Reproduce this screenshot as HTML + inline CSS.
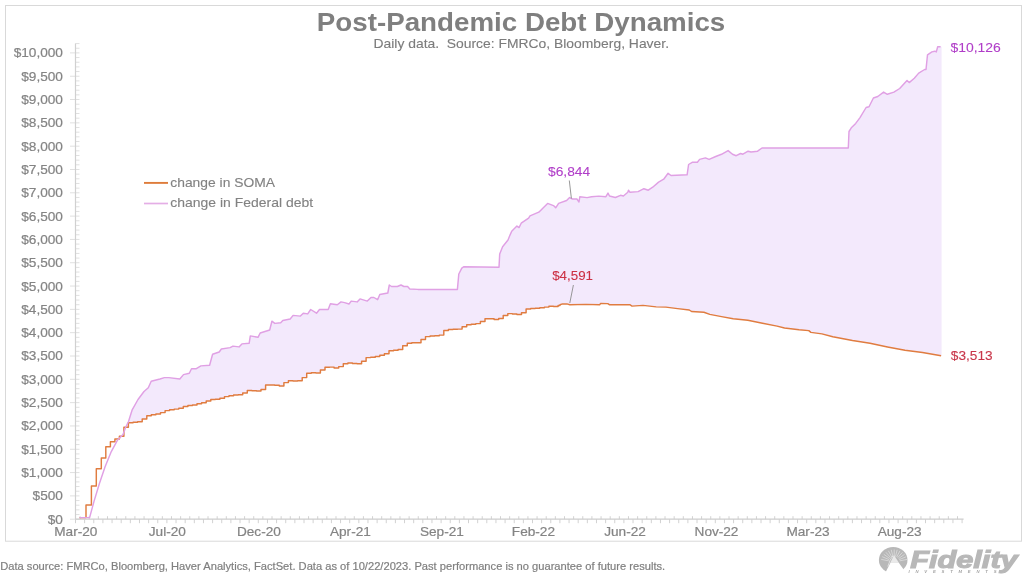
<!DOCTYPE html>
<html><head><meta charset="utf-8"><style>
html,body{margin:0;padding:0;background:#fff;width:1024px;height:581px;overflow:hidden}
svg{display:block}
text{font-family:"Liberation Sans",sans-serif}
</style></head><body>
<svg width="1024" height="581" viewBox="0 0 1024 581">
<defs><filter id="bl" x="0" y="0" width="1" height="1"><feGaussianBlur stdDeviation="0.5"/></filter></defs><g filter="url(#bl)">
<rect x="5.5" y="5.5" width="1016" height="535.7" fill="none" stroke="#d9d9d9" stroke-width="1"/>
<polygon points="127.5,423.5 128.5,421.5 132.2,409.8 138.0,399.5 144.0,391.5 148.3,387.8 151.2,381.2 160.0,379.0 164.4,377.6 168.8,377.6 179.8,379.0 183.5,374.6 189.3,373.2 191.5,368.8 195.9,368.8 200.9,365.9 209.6,365.2 212.6,354.2 219.2,352.0 221.4,349.0 230.1,347.6 233.0,346.1 239.0,346.9 241.9,343.9 249.2,343.2 250.3,335.9 258.0,337.3 260.2,333.0 269.7,330.0 271.9,321.2 274.8,323.4 280.7,322.7 282.8,320.5 290.2,319.0 293.1,315.4 300.4,316.1 303.3,313.2 307.7,313.9 310.7,309.5 316.5,313.2 319.5,309.5 328.2,309.5 330.4,303.7 337.3,304.8 341.0,301.9 344.6,302.6 349.0,304.0 351.2,301.1 357.1,301.9 360.0,298.9 367.3,301.1 371.0,297.5 373.9,297.5 377.6,299.7 379.8,294.5 387.8,293.0 389.3,285.0 391.5,286.5 397.3,286.5 401.0,285.0 403.9,286.5 407.6,286.5 409.8,289.0 417.8,289.4 457.4,289.4 458.8,274.0 461.8,268.2 464.0,266.7 499.0,267.3 499.7,254.1 502.6,246.8 508.0,240.0 510.0,235.1 511.7,231.2 516.9,226.1 519.0,227.6 521.2,223.2 528.6,218.1 530.0,215.9 538.8,212.2 547.6,203.4 553.5,205.6 555.7,207.8 558.6,203.4 566.6,200.5 569.6,197.6 572.5,199.0 576.9,199.0 579.0,202.0 579.8,196.8 587.1,197.6 591.5,196.8 598.8,196.1 605.9,196.7 608.0,193.1 609.5,196.0 615.4,197.5 620.5,195.3 623.4,196.0 627.8,192.3 628.5,190.2 630.0,192.3 638.1,191.6 643.9,188.7 648.3,190.2 652.7,187.2 658.6,182.1 663.7,179.2 668.1,173.3 671.0,175.5 687.1,174.8 688.6,164.5 692.2,162.3 697.4,162.3 699.6,159.4 705.4,157.9 709.1,159.4 715.7,156.5 721.5,154.3 728.1,150.6 732.5,154.3 736.2,155.7 740.6,153.5 742.9,154.2 748.1,151.2 751.0,152.0 757.6,151.2 762.0,148.0 848.3,148.0 849.0,131.5 851.3,127.8 855.7,123.4 860.0,117.6 866.1,107.5 869.0,106.8 873.4,98.0 877.8,96.5 883.6,92.1 887.3,94.3 893.9,92.1 899.7,88.5 907.0,80.4 909.2,82.6 914.3,78.2 918.7,73.1 924.6,69.5 926.0,69.5 927.5,54.9 931.9,51.9 934.8,51.2 936.3,51.9 937.7,46.8 940.6,46.8 941.6,46.8 941.6,355.8 941.1,355.8 922.5,352.5 905.0,350.3 887.5,347.0 870.0,343.3 852.5,340.5 832.8,336.8 821.9,333.9 810.9,332.4 808.8,330.6 799.1,329.8 784.5,328.0 777.1,326.1 762.5,323.2 747.8,320.3 733.2,318.8 721.5,316.6 709.8,314.4 703.9,312.2 691.5,311.5 689.3,310.0 677.6,308.6 665.9,307.1 656.2,306.9 643.0,305.4 632.0,306.1 629.8,304.7 609.3,304.7 607.8,303.6 600.5,303.5 599.8,304.7 585.9,304.4 569.8,304.7 566.9,303.9 562.5,303.9 560.0,304.8 560.0,305.5 558.1,305.5 558.1,306.5 553.5,306.5 553.5,306.2 548.9,306.2 548.9,307.1 544.4,307.1 544.4,307.8 539.8,307.8 539.8,308.2 535.2,308.2 535.2,308.5 530.7,308.5 530.7,308.9 526.1,308.9 526.1,312.7 521.5,312.7 521.5,314.5 516.9,314.5 516.9,313.9 512.4,313.9 512.4,313.6 507.8,313.6 507.8,315.5 503.2,315.5 503.2,318.4 498.7,318.4 498.7,319.4 494.1,319.4 494.1,318.8 489.5,318.8 489.5,318.7 485.0,318.7 485.0,321.4 480.4,321.4 480.4,323.6 475.8,323.6 475.8,324.2 471.2,324.2 471.2,324.8 466.7,324.8 466.7,326.8 462.1,326.8 462.1,329.1 457.5,329.1 457.5,329.3 453.0,329.3 453.0,329.5 448.4,329.5 448.4,330.4 443.8,330.4 443.8,335.1 439.3,335.1 439.3,335.7 434.7,335.7 434.7,336.0 430.1,336.0 430.1,336.6 425.5,336.6 425.5,339.4 421.0,339.4 421.0,342.8 416.4,342.8 416.4,342.8 411.8,342.8 411.8,343.3 407.3,343.3 407.3,345.7 402.7,345.7 402.7,349.4 398.1,349.4 398.1,350.3 393.6,350.3 393.6,350.7 389.0,350.7 389.0,353.8 384.4,353.8 384.4,355.3 379.8,355.3 379.8,356.4 375.3,356.4 375.3,357.2 370.7,357.2 370.7,357.6 366.1,357.6 366.1,361.3 361.6,361.3 361.6,363.8 357.0,363.8 357.0,363.4 352.4,363.4 352.4,363.0 347.9,363.0 347.9,363.7 343.3,363.7 343.3,366.6 338.7,366.6 338.7,368.0 334.1,368.0 334.1,367.1 329.6,367.1 329.6,367.2 325.0,367.2 325.0,370.0 320.4,370.0 320.4,373.0 315.9,373.0 315.9,372.7 311.3,372.7 311.3,373.3 306.7,373.3 306.7,377.6 302.2,377.6 302.2,380.7 297.6,380.7 297.6,380.9 293.0,380.9 293.0,380.7 288.4,380.7 288.4,382.6 283.9,382.6 283.9,386.0 279.3,386.0 279.3,385.3 274.7,385.3 274.7,384.9 270.2,384.9 270.2,384.9 265.6,384.9 265.6,389.5 261.0,389.5 261.0,391.0 256.5,391.0 256.5,390.8 251.9,390.8 251.9,390.4 247.3,390.4 247.3,393.0 242.7,393.0 242.7,394.7 238.2,394.7 238.2,395.0 233.6,395.0 233.6,395.7 229.0,395.7 229.0,396.6 224.5,396.6 224.5,398.2 219.9,398.2 219.9,399.3 215.3,399.3 215.3,399.4 210.8,399.4 210.8,400.9 206.2,400.9 206.2,402.7 201.6,402.7 201.6,403.8 197.0,403.8 197.0,404.9 192.5,404.9 192.5,405.5 187.9,405.5 187.9,406.4 183.3,406.4 183.3,408.3 178.8,408.3 178.8,409.1 174.2,409.1 174.2,409.8 169.6,409.8 169.6,410.6 165.1,410.6 165.1,412.6 160.5,412.6 160.5,413.9 155.9,413.9 155.9,414.7 151.3,414.7 151.3,415.8 146.8,415.8 146.8,419.0 142.2,419.0 142.2,421.8 137.6,421.8 137.6,422.3 133.1,422.3 133.1,422.7 128.4,422.7 128.4,427.2 127.5,427.2" fill="#f3e9fc"/>
<path d="M70.0,519.20H75.5M70.0,495.89H75.5M70.0,472.57H75.5M70.0,449.26H75.5M70.0,425.94H75.5M70.0,402.63H75.5M70.0,379.31H75.5M70.0,356.00H75.5M70.0,332.68H75.5M70.0,309.37H75.5M70.0,286.05H75.5M70.0,262.74H75.5M70.0,239.42H75.5M70.0,216.11H75.5M70.0,192.79H75.5M70.0,169.48H75.5M70.0,146.16H75.5M70.0,122.85H75.5M70.0,99.53H75.5M70.0,76.22H75.5M70.0,52.90H75.5M75.5,519.20H79.5M75.5,514.54H79.5M75.5,509.87H79.5M75.5,505.21H79.5M75.5,500.55H79.5M75.5,495.89H79.5M75.5,491.22H79.5M75.5,486.56H79.5M75.5,481.90H79.5M75.5,477.23H79.5M75.5,472.57H79.5M75.5,467.91H79.5M75.5,463.24H79.5M75.5,458.58H79.5M75.5,453.92H79.5M75.5,449.26H79.5M75.5,444.59H79.5M75.5,439.93H79.5M75.5,435.27H79.5M75.5,430.60H79.5M75.5,425.94H79.5M75.5,421.28H79.5M75.5,416.61H79.5M75.5,411.95H79.5M75.5,407.29H79.5M75.5,402.63H79.5M75.5,397.96H79.5M75.5,393.30H79.5M75.5,388.64H79.5M75.5,383.97H79.5M75.5,379.31H79.5M75.5,374.65H79.5M75.5,369.98H79.5M75.5,365.32H79.5M75.5,360.66H79.5M75.5,356.00H79.5M75.5,351.33H79.5M75.5,346.67H79.5M75.5,342.01H79.5M75.5,337.34H79.5M75.5,332.68H79.5M75.5,328.02H79.5M75.5,323.35H79.5M75.5,318.69H79.5M75.5,314.03H79.5M75.5,309.37H79.5M75.5,304.70H79.5M75.5,300.04H79.5M75.5,295.38H79.5M75.5,290.71H79.5M75.5,286.05H79.5M75.5,281.39H79.5M75.5,276.72H79.5M75.5,272.06H79.5M75.5,267.40H79.5M75.5,262.74H79.5M75.5,258.07H79.5M75.5,253.41H79.5M75.5,248.75H79.5M75.5,244.08H79.5M75.5,239.42H79.5M75.5,234.76H79.5M75.5,230.09H79.5M75.5,225.43H79.5M75.5,220.77H79.5M75.5,216.11H79.5M75.5,211.44H79.5M75.5,206.78H79.5M75.5,202.12H79.5M75.5,197.45H79.5M75.5,192.79H79.5M75.5,188.13H79.5M75.5,183.46H79.5M75.5,178.80H79.5M75.5,174.14H79.5M75.5,169.48H79.5M75.5,164.81H79.5M75.5,160.15H79.5M75.5,155.49H79.5M75.5,150.82H79.5M75.5,146.16H79.5M75.5,141.50H79.5M75.5,136.83H79.5M75.5,132.17H79.5M75.5,127.51H79.5M75.5,122.85H79.5M75.5,118.18H79.5M75.5,113.52H79.5M75.5,108.86H79.5M75.5,104.19H79.5M75.5,99.53H79.5M75.5,94.87H79.5M75.5,90.20H79.5M75.5,85.54H79.5M75.5,80.88H79.5M75.5,76.22H79.5M75.5,71.55H79.5M75.5,66.89H79.5M75.5,62.23H79.5M75.5,57.56H79.5M75.5,52.90H79.5M75.5,48.24H79.5M75.5,43.57H79.5" stroke="#e0e0e0" stroke-width="1" fill="none"/>
<path d="M75.5,43.5V519.2" stroke="#d0d0d0" stroke-width="1.2" fill="none"/>
<path d="M75.50,519.2V523.2M80.07,516.2V519.2M84.64,519.2V523.2M89.21,516.2V519.2M93.78,519.2V523.2M98.35,516.2V519.2M102.92,519.2V523.2M107.49,516.2V519.2M112.06,519.2V523.2M116.63,516.2V519.2M121.20,519.2V523.2M125.77,516.2V519.2M130.34,519.2V523.2M134.91,516.2V519.2M139.48,519.2V523.2M144.05,516.2V519.2M148.62,519.2V523.2M153.19,516.2V519.2M157.76,519.2V523.2M162.33,516.2V519.2M166.90,519.2V523.2M171.47,516.2V519.2M176.04,519.2V523.2M180.61,516.2V519.2M185.18,519.2V523.2M189.75,516.2V519.2M194.32,519.2V523.2M198.89,516.2V519.2M203.46,519.2V523.2M208.03,516.2V519.2M212.60,519.2V523.2M217.17,516.2V519.2M221.74,519.2V523.2M226.31,516.2V519.2M230.88,519.2V523.2M235.45,516.2V519.2M240.02,519.2V523.2M244.59,516.2V519.2M249.16,519.2V523.2M253.73,516.2V519.2M258.30,519.2V523.2M262.87,516.2V519.2M267.44,519.2V523.2M272.01,516.2V519.2M276.58,519.2V523.2M281.15,516.2V519.2M285.72,519.2V523.2M290.29,516.2V519.2M294.86,519.2V523.2M299.43,516.2V519.2M304.00,519.2V523.2M308.57,516.2V519.2M313.14,519.2V523.2M317.71,516.2V519.2M322.28,519.2V523.2M326.85,516.2V519.2M331.42,519.2V523.2M335.99,516.2V519.2M340.56,519.2V523.2M345.13,516.2V519.2M349.70,519.2V523.2M354.27,516.2V519.2M358.84,519.2V523.2M363.41,516.2V519.2M367.98,519.2V523.2M372.55,516.2V519.2M377.12,519.2V523.2M381.69,516.2V519.2M386.26,519.2V523.2M390.83,516.2V519.2M395.40,519.2V523.2M399.97,516.2V519.2M404.54,519.2V523.2M409.11,516.2V519.2M413.68,519.2V523.2M418.25,516.2V519.2M422.82,519.2V523.2M427.39,516.2V519.2M431.96,519.2V523.2M436.53,516.2V519.2M441.10,519.2V523.2M445.67,516.2V519.2M450.24,519.2V523.2M454.81,516.2V519.2M459.38,519.2V523.2M463.95,516.2V519.2M468.52,519.2V523.2M473.09,516.2V519.2M477.66,519.2V523.2M482.23,516.2V519.2M486.80,519.2V523.2M491.37,516.2V519.2M495.94,519.2V523.2M500.51,516.2V519.2M505.08,519.2V523.2M509.65,516.2V519.2M514.22,519.2V523.2M518.79,516.2V519.2M523.36,519.2V523.2M527.93,516.2V519.2M532.50,519.2V523.2M537.07,516.2V519.2M541.64,519.2V523.2M546.21,516.2V519.2M550.78,519.2V523.2M555.35,516.2V519.2M559.92,519.2V523.2M564.49,516.2V519.2M569.06,519.2V523.2M573.63,516.2V519.2M578.20,519.2V523.2M582.77,516.2V519.2M587.34,519.2V523.2M591.91,516.2V519.2M596.48,519.2V523.2M601.05,516.2V519.2M605.62,519.2V523.2M610.19,516.2V519.2M614.76,519.2V523.2M619.33,516.2V519.2M623.90,519.2V523.2M628.47,516.2V519.2M633.04,519.2V523.2M637.61,516.2V519.2M642.18,519.2V523.2M646.75,516.2V519.2M651.32,519.2V523.2M655.89,516.2V519.2M660.46,519.2V523.2M665.03,516.2V519.2M669.60,519.2V523.2M674.17,516.2V519.2M678.74,519.2V523.2M683.31,516.2V519.2M687.88,519.2V523.2M692.45,516.2V519.2M697.02,519.2V523.2M701.59,516.2V519.2M706.16,519.2V523.2M710.73,516.2V519.2M715.30,519.2V523.2M719.87,516.2V519.2M724.44,519.2V523.2M729.01,516.2V519.2M733.58,519.2V523.2M738.15,516.2V519.2M742.72,519.2V523.2M747.29,516.2V519.2M751.86,519.2V523.2M756.43,516.2V519.2M761.00,519.2V523.2M765.57,516.2V519.2M770.14,519.2V523.2M774.71,516.2V519.2M779.28,519.2V523.2M783.85,516.2V519.2M788.42,519.2V523.2M792.99,516.2V519.2M797.56,519.2V523.2M802.13,516.2V519.2M806.70,519.2V523.2M811.27,516.2V519.2M815.84,519.2V523.2M820.41,516.2V519.2M824.98,519.2V523.2M829.55,516.2V519.2M834.12,519.2V523.2M838.69,516.2V519.2M843.26,519.2V523.2M847.83,516.2V519.2M852.40,519.2V523.2M856.97,516.2V519.2M861.54,519.2V523.2M866.11,516.2V519.2M870.68,519.2V523.2M875.25,516.2V519.2M879.82,519.2V523.2M884.39,516.2V519.2M888.96,519.2V523.2M893.53,516.2V519.2M898.10,519.2V523.2M902.67,516.2V519.2M907.24,519.2V523.2M911.81,516.2V519.2M916.38,519.2V523.2M920.95,516.2V519.2M925.52,519.2V523.2M930.09,516.2V519.2M934.66,519.2V523.2M939.23,516.2V519.2M943.80,519.2V523.2M948.37,516.2V519.2M952.94,519.2V523.2M957.51,516.2V519.2M962.08,519.2V523.2" stroke="#d2d2d2" stroke-width="1" fill="none"/>
<path d="M75.5,519.2H963.6" stroke="#cdcdcd" stroke-width="1.2" fill="none"/>
<polyline points="79.6,517.6 86.0,517.6 86.0,505.0 91.4,505.0 91.4,486.0 96.3,486.0 96.3,468.8 101.3,468.8 101.3,458.0 105.8,458.0 105.8,446.8 110.4,446.8 110.4,441.7 114.9,441.7 114.9,439.0 119.4,439.0 119.4,436.3 123.9,436.3 123.9,427.2 128.4,427.2 128.4,422.7 133.1,422.7 133.1,422.3 137.6,422.3 137.6,421.8 142.2,421.8 142.2,419.0 146.8,419.0 146.8,415.8 151.3,415.8 151.3,414.7 155.9,414.7 155.9,413.9 160.5,413.9 160.5,412.6 165.1,412.6 165.1,410.6 169.6,410.6 169.6,409.8 174.2,409.8 174.2,409.1 178.8,409.1 178.8,408.3 183.3,408.3 183.3,406.4 187.9,406.4 187.9,405.5 192.5,405.5 192.5,404.9 197.0,404.9 197.0,403.8 201.6,403.8 201.6,402.7 206.2,402.7 206.2,400.9 210.8,400.9 210.8,399.4 215.3,399.4 215.3,399.3 219.9,399.3 219.9,398.2 224.5,398.2 224.5,396.6 229.0,396.6 229.0,395.7 233.6,395.7 233.6,395.0 238.2,395.0 238.2,394.7 242.7,394.7 242.7,393.0 247.3,393.0 247.3,390.4 251.9,390.4 251.9,390.8 256.5,390.8 256.5,391.0 261.0,391.0 261.0,389.5 265.6,389.5 265.6,384.9 270.2,384.9 270.2,384.9 274.7,384.9 274.7,385.3 279.3,385.3 279.3,386.0 283.9,386.0 283.9,382.6 288.4,382.6 288.4,380.7 293.0,380.7 293.0,380.9 297.6,380.9 297.6,380.7 302.2,380.7 302.2,377.6 306.7,377.6 306.7,373.3 311.3,373.3 311.3,372.7 315.9,372.7 315.9,373.0 320.4,373.0 320.4,370.0 325.0,370.0 325.0,367.2 329.6,367.2 329.6,367.1 334.1,367.1 334.1,368.0 338.7,368.0 338.7,366.6 343.3,366.6 343.3,363.7 347.9,363.7 347.9,363.0 352.4,363.0 352.4,363.4 357.0,363.4 357.0,363.8 361.6,363.8 361.6,361.3 366.1,361.3 366.1,357.6 370.7,357.6 370.7,357.2 375.3,357.2 375.3,356.4 379.8,356.4 379.8,355.3 384.4,355.3 384.4,353.8 389.0,353.8 389.0,350.7 393.6,350.7 393.6,350.3 398.1,350.3 398.1,349.4 402.7,349.4 402.7,345.7 407.3,345.7 407.3,343.3 411.8,343.3 411.8,342.8 416.4,342.8 416.4,342.8 421.0,342.8 421.0,339.4 425.5,339.4 425.5,336.6 430.1,336.6 430.1,336.0 434.7,336.0 434.7,335.7 439.3,335.7 439.3,335.1 443.8,335.1 443.8,330.4 448.4,330.4 448.4,329.5 453.0,329.5 453.0,329.3 457.5,329.3 457.5,329.1 462.1,329.1 462.1,326.8 466.7,326.8 466.7,324.8 471.2,324.8 471.2,324.2 475.8,324.2 475.8,323.6 480.4,323.6 480.4,321.4 485.0,321.4 485.0,318.7 489.5,318.7 489.5,318.8 494.1,318.8 494.1,319.4 498.7,319.4 498.7,318.4 503.2,318.4 503.2,315.5 507.8,315.5 507.8,313.6 512.4,313.6 512.4,313.9 516.9,313.9 516.9,314.5 521.5,314.5 521.5,312.7 526.1,312.7 526.1,308.9 530.7,308.9 530.7,308.5 535.2,308.5 535.2,308.2 539.8,308.2 539.8,307.8 544.4,307.8 544.4,307.1 548.9,307.1 548.9,306.2 553.5,306.2 553.5,306.5 558.1,306.5 558.1,305.5 560.0,305.5 560.0,304.8 562.5,303.9 566.9,303.9 569.8,304.7 585.9,304.4 599.8,304.7 600.5,303.5 607.8,303.6 609.3,304.7 629.8,304.7 632.0,306.1 643.0,305.4 656.2,306.9 665.9,307.1 677.6,308.6 689.3,310.0 691.5,311.5 703.9,312.2 709.8,314.4 721.5,316.6 733.2,318.8 747.8,320.3 762.5,323.2 777.1,326.1 784.5,328.0 799.1,329.8 808.8,330.6 810.9,332.4 821.9,333.9 832.8,336.8 852.5,340.5 870.0,343.3 887.5,347.0 905.0,350.3 922.5,352.5 941.1,355.8" fill="none" stroke="#e07c40" stroke-width="1.45" stroke-linejoin="round"/>
<polyline points="79.6,517.6 89.6,517.6 94.0,501.4 99.5,483.3 105.0,467.0 111.3,451.6 117.6,439.9 123.0,434.5 125.7,427.2 128.5,421.5 132.2,409.8 138.0,399.5 144.0,391.5 148.3,387.8 151.2,381.2 160.0,379.0 164.4,377.6 168.8,377.6 179.8,379.0 183.5,374.6 189.3,373.2 191.5,368.8 195.9,368.8 200.9,365.9 209.6,365.2 212.6,354.2 219.2,352.0 221.4,349.0 230.1,347.6 233.0,346.1 239.0,346.9 241.9,343.9 249.2,343.2 250.3,335.9 258.0,337.3 260.2,333.0 269.7,330.0 271.9,321.2 274.8,323.4 280.7,322.7 282.8,320.5 290.2,319.0 293.1,315.4 300.4,316.1 303.3,313.2 307.7,313.9 310.7,309.5 316.5,313.2 319.5,309.5 328.2,309.5 330.4,303.7 337.3,304.8 341.0,301.9 344.6,302.6 349.0,304.0 351.2,301.1 357.1,301.9 360.0,298.9 367.3,301.1 371.0,297.5 373.9,297.5 377.6,299.7 379.8,294.5 387.8,293.0 389.3,285.0 391.5,286.5 397.3,286.5 401.0,285.0 403.9,286.5 407.6,286.5 409.8,289.0 417.8,289.4 457.4,289.4 458.8,274.0 461.8,268.2 464.0,266.7 499.0,267.3 499.7,254.1 502.6,246.8 508.0,240.0 510.0,235.1 511.7,231.2 516.9,226.1 519.0,227.6 521.2,223.2 528.6,218.1 530.0,215.9 538.8,212.2 547.6,203.4 553.5,205.6 555.7,207.8 558.6,203.4 566.6,200.5 569.6,197.6 572.5,199.0 576.9,199.0 579.0,202.0 579.8,196.8 587.1,197.6 591.5,196.8 598.8,196.1 605.9,196.7 608.0,193.1 609.5,196.0 615.4,197.5 620.5,195.3 623.4,196.0 627.8,192.3 628.5,190.2 630.0,192.3 638.1,191.6 643.9,188.7 648.3,190.2 652.7,187.2 658.6,182.1 663.7,179.2 668.1,173.3 671.0,175.5 687.1,174.8 688.6,164.5 692.2,162.3 697.4,162.3 699.6,159.4 705.4,157.9 709.1,159.4 715.7,156.5 721.5,154.3 728.1,150.6 732.5,154.3 736.2,155.7 740.6,153.5 742.9,154.2 748.1,151.2 751.0,152.0 757.6,151.2 762.0,148.0 848.3,148.0 849.0,131.5 851.3,127.8 855.7,123.4 860.0,117.6 866.1,107.5 869.0,106.8 873.4,98.0 877.8,96.5 883.6,92.1 887.3,94.3 893.9,92.1 899.7,88.5 907.0,80.4 909.2,82.6 914.3,78.2 918.7,73.1 924.6,69.5 926.0,69.5 927.5,54.9 931.9,51.9 934.8,51.2 936.3,51.9 937.7,46.8 940.6,46.8" fill="none" stroke="#e0a0e4" stroke-width="1.45" stroke-linejoin="round"/>
<path d="M569.3,180.5L571.4,198.5M573.4,285L569.8,303" stroke="#8c8c8c" stroke-width="0.9" fill="none"/>
<text transform="translate(62.9,523.6) scale(1.1,1)" font-size="12.4" fill="#848484" text-anchor="end" font-weight="normal" stroke="#848484" stroke-width="0.2" xml:space="preserve">$0</text>
<text transform="translate(62.9,500.3) scale(1.1,1)" font-size="12.4" fill="#848484" text-anchor="end" font-weight="normal" stroke="#848484" stroke-width="0.2" xml:space="preserve">$500</text>
<text transform="translate(62.9,477.0) scale(1.1,1)" font-size="12.4" fill="#848484" text-anchor="end" font-weight="normal" stroke="#848484" stroke-width="0.2" xml:space="preserve">$1,000</text>
<text transform="translate(62.9,453.7) scale(1.1,1)" font-size="12.4" fill="#848484" text-anchor="end" font-weight="normal" stroke="#848484" stroke-width="0.2" xml:space="preserve">$1,500</text>
<text transform="translate(62.9,430.3) scale(1.1,1)" font-size="12.4" fill="#848484" text-anchor="end" font-weight="normal" stroke="#848484" stroke-width="0.2" xml:space="preserve">$2,000</text>
<text transform="translate(62.9,407.0) scale(1.1,1)" font-size="12.4" fill="#848484" text-anchor="end" font-weight="normal" stroke="#848484" stroke-width="0.2" xml:space="preserve">$2,500</text>
<text transform="translate(62.9,383.7) scale(1.1,1)" font-size="12.4" fill="#848484" text-anchor="end" font-weight="normal" stroke="#848484" stroke-width="0.2" xml:space="preserve">$3,000</text>
<text transform="translate(62.9,360.4) scale(1.1,1)" font-size="12.4" fill="#848484" text-anchor="end" font-weight="normal" stroke="#848484" stroke-width="0.2" xml:space="preserve">$3,500</text>
<text transform="translate(62.9,337.1) scale(1.1,1)" font-size="12.4" fill="#848484" text-anchor="end" font-weight="normal" stroke="#848484" stroke-width="0.2" xml:space="preserve">$4,000</text>
<text transform="translate(62.9,313.8) scale(1.1,1)" font-size="12.4" fill="#848484" text-anchor="end" font-weight="normal" stroke="#848484" stroke-width="0.2" xml:space="preserve">$4,500</text>
<text transform="translate(62.9,290.5) scale(1.1,1)" font-size="12.4" fill="#848484" text-anchor="end" font-weight="normal" stroke="#848484" stroke-width="0.2" xml:space="preserve">$5,000</text>
<text transform="translate(62.9,267.1) scale(1.1,1)" font-size="12.4" fill="#848484" text-anchor="end" font-weight="normal" stroke="#848484" stroke-width="0.2" xml:space="preserve">$5,500</text>
<text transform="translate(62.9,243.8) scale(1.1,1)" font-size="12.4" fill="#848484" text-anchor="end" font-weight="normal" stroke="#848484" stroke-width="0.2" xml:space="preserve">$6,000</text>
<text transform="translate(62.9,220.5) scale(1.1,1)" font-size="12.4" fill="#848484" text-anchor="end" font-weight="normal" stroke="#848484" stroke-width="0.2" xml:space="preserve">$6,500</text>
<text transform="translate(62.9,197.2) scale(1.1,1)" font-size="12.4" fill="#848484" text-anchor="end" font-weight="normal" stroke="#848484" stroke-width="0.2" xml:space="preserve">$7,000</text>
<text transform="translate(62.9,173.9) scale(1.1,1)" font-size="12.4" fill="#848484" text-anchor="end" font-weight="normal" stroke="#848484" stroke-width="0.2" xml:space="preserve">$7,500</text>
<text transform="translate(62.9,150.6) scale(1.1,1)" font-size="12.4" fill="#848484" text-anchor="end" font-weight="normal" stroke="#848484" stroke-width="0.2" xml:space="preserve">$8,000</text>
<text transform="translate(62.9,127.2) scale(1.1,1)" font-size="12.4" fill="#848484" text-anchor="end" font-weight="normal" stroke="#848484" stroke-width="0.2" xml:space="preserve">$8,500</text>
<text transform="translate(62.9,103.9) scale(1.1,1)" font-size="12.4" fill="#848484" text-anchor="end" font-weight="normal" stroke="#848484" stroke-width="0.2" xml:space="preserve">$9,000</text>
<text transform="translate(62.9,80.6) scale(1.1,1)" font-size="12.4" fill="#848484" text-anchor="end" font-weight="normal" stroke="#848484" stroke-width="0.2" xml:space="preserve">$9,500</text>
<text transform="translate(62.9,57.3) scale(1.1,1)" font-size="12.4" fill="#848484" text-anchor="end" font-weight="normal" stroke="#848484" stroke-width="0.2" xml:space="preserve">$10,000</text>
<text transform="translate(75.8,535.9) scale(1.1,1)" font-size="12.4" fill="#848484" text-anchor="middle" font-weight="normal" stroke="#848484" stroke-width="0.2" xml:space="preserve">Mar-20</text>
<text transform="translate(167.3,535.9) scale(1.1,1)" font-size="12.4" fill="#848484" text-anchor="middle" font-weight="normal" stroke="#848484" stroke-width="0.2" xml:space="preserve">Jul-20</text>
<text transform="translate(258.9,535.9) scale(1.1,1)" font-size="12.4" fill="#848484" text-anchor="middle" font-weight="normal" stroke="#848484" stroke-width="0.2" xml:space="preserve">Dec-20</text>
<text transform="translate(350.4,535.9) scale(1.1,1)" font-size="12.4" fill="#848484" text-anchor="middle" font-weight="normal" stroke="#848484" stroke-width="0.2" xml:space="preserve">Apr-21</text>
<text transform="translate(441.9,535.9) scale(1.1,1)" font-size="12.4" fill="#848484" text-anchor="middle" font-weight="normal" stroke="#848484" stroke-width="0.2" xml:space="preserve">Sep-21</text>
<text transform="translate(533.4,535.9) scale(1.1,1)" font-size="12.4" fill="#848484" text-anchor="middle" font-weight="normal" stroke="#848484" stroke-width="0.2" xml:space="preserve">Feb-22</text>
<text transform="translate(625.0,535.9) scale(1.1,1)" font-size="12.4" fill="#848484" text-anchor="middle" font-weight="normal" stroke="#848484" stroke-width="0.2" xml:space="preserve">Jun-22</text>
<text transform="translate(716.5,535.9) scale(1.1,1)" font-size="12.4" fill="#848484" text-anchor="middle" font-weight="normal" stroke="#848484" stroke-width="0.2" xml:space="preserve">Nov-22</text>
<text transform="translate(808.0,535.9) scale(1.1,1)" font-size="12.4" fill="#848484" text-anchor="middle" font-weight="normal" stroke="#848484" stroke-width="0.2" xml:space="preserve">Mar-23</text>
<text transform="translate(899.6,535.9) scale(1.1,1)" font-size="12.4" fill="#848484" text-anchor="middle" font-weight="normal" stroke="#848484" stroke-width="0.2" xml:space="preserve">Aug-23</text>
<text x="316.8" y="31" font-size="25.2" fill="#7f7f7f" text-anchor="start" font-weight="bold" textLength="408.5" lengthAdjust="spacingAndGlyphs" xml:space="preserve">Post-Pandemic Debt Dynamics</text>
<text x="373.5" y="48.1" font-size="12.8" fill="#7c7c7c" text-anchor="start" font-weight="normal" textLength="295.5" lengthAdjust="spacingAndGlyphs" stroke="#7c7c7c" stroke-width="0.12" xml:space="preserve">Daily data.  Source: FMRCo, Bloomberg, Haver.</text>
<path d="M144,182.9H168" stroke="#de7c3a" stroke-width="1.9"/>
<path d="M144,203.5H168" stroke="#e4aee6" stroke-width="1.7"/>
<text x="170.3" y="186.9" font-size="12.8" fill="#828282" text-anchor="start" font-weight="normal" textLength="104.7" lengthAdjust="spacingAndGlyphs" stroke="#828282" stroke-width="0.12" xml:space="preserve">change in SOMA</text>
<text x="170.3" y="207.3" font-size="12.8" fill="#828282" text-anchor="start" font-weight="normal" textLength="142.8" lengthAdjust="spacingAndGlyphs" stroke="#828282" stroke-width="0.12" xml:space="preserve">change in Federal debt</text>
<text x="548" y="175.9" font-size="13.6" fill="#b03ec8" text-anchor="start" font-weight="normal" textLength="42.2" lengthAdjust="spacingAndGlyphs" stroke="#b03ec8" stroke-width="0.1" xml:space="preserve">$6,844</text>
<text x="552.2" y="279.9" font-size="13.6" fill="#cc3044" text-anchor="start" font-weight="normal" textLength="40.8" lengthAdjust="spacingAndGlyphs" stroke="#cc3044" stroke-width="0.1" xml:space="preserve">$4,591</text>
<text x="950.8" y="360" font-size="13.6" fill="#c8364a" text-anchor="start" font-weight="normal" textLength="41.8" lengthAdjust="spacingAndGlyphs" stroke="#c8364a" stroke-width="0.1" xml:space="preserve">$3,513</text>
<text x="950.4" y="52" font-size="13.6" fill="#b03ec8" text-anchor="start" font-weight="normal" textLength="50.4" lengthAdjust="spacingAndGlyphs" stroke="#b03ec8" stroke-width="0.1" xml:space="preserve">$10,126</text>
<text x="0.2" y="570.3" font-size="11.2" fill="#7f7f7f" text-anchor="start" font-weight="normal" textLength="665" lengthAdjust="spacingAndGlyphs" stroke="#7f7f7f" stroke-width="0.2" xml:space="preserve">Data source: FMRCo, Bloomberg, Haver Analytics, FactSet. Data as of 10/22/2023. Past performance is no guarantee of future results.</text>
<g>
<ellipse cx="893.2" cy="560" rx="14.3" ry="13.1" fill="#b8b8b8"/>
<path d="M888.82,560.86L881.29,559.40M889.22,559.68L882.24,556.72M889.87,558.61L883.80,554.30M890.74,557.73L885.89,552.29M891.79,557.06L888.41,550.77M892.96,556.64L891.23,549.82M894.20,556.50L894.20,549.50M895.44,556.64L897.17,549.82M896.61,557.06L899.99,550.77M897.66,557.73L902.51,552.29M898.53,558.61L904.60,554.30M899.18,559.68L906.16,556.72M899.58,560.86L907.11,559.40" stroke="#fff" stroke-width="0.75" opacity="0.55"/>
<path d="M890.6,562.5 L898.6,562.5 L911.2,580 L881.6,580 Z" fill="#fff"/>
<path d="M890.4,562.6 L894,555.2 L898.8,562.6 Z" fill="#fff" opacity="0.7"/>
<path d="M887.8,566.5 Q890,559 893,555.8" stroke="#fff" stroke-width="0.8" fill="none" opacity="0.7"/>
</g>
<text transform="translate(910.2,567.6)" font-size="23" font-weight="bold" font-style="italic" fill="#b8b8b8" stroke="#b8b8b8" stroke-width="1.1" textLength="107.5" lengthAdjust="spacingAndGlyphs">Fidelity</text>
<text transform="translate(908.5,572.6)" font-size="4.2" font-weight="bold" font-style="italic" fill="#a4a4a4" textLength="88" lengthAdjust="spacing">INVESTMENTS</text>
</g>
</svg>
</body></html>
